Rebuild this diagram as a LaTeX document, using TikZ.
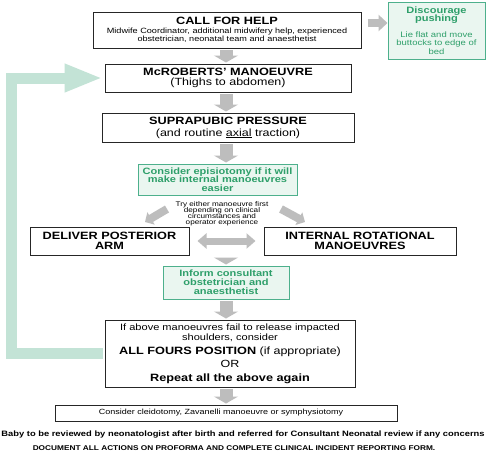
\documentclass[tikz,border=0pt]{standalone}
\usepackage{fontspec}
\setmainfont{Liberation Sans}[FakeStretch=1.2]
\usetikzlibrary{arrows.meta}
\definecolor{gbord}{HTML}{4DB08C}
\definecolor{gfill}{HTML}{EAF6F0}
\definecolor{gtext}{HTML}{2E9F6A}
\definecolor{mint}{HTML}{C3E3D6}
\definecolor{agray}{HTML}{BDBDBD}
\newcommand\fTitle{\fontsize{10.6}{10}\selectfont\bfseries}
\newcommand\fSub{\fontsize{10.4}{10}\selectfont}
\newcommand\fSmall{\fontsize{7.6}{8.5}\selectfont}
\newcommand\fGreen{\fontsize{9.2}{8.8}\selectfont\bfseries}
\newcommand\fTiny{\fontsize{6.8}{6}\selectfont}
\begin{document}
\begin{tikzpicture}[x=1pt,y=-1pt,
  every node/.style={execute at begin node={\lineskiplimit=-30pt\lineskip=0pt}},
  box/.style={draw=black!85, line width=1pt, fill=white, inner sep=0pt, align=center},
  gbox/.style={draw=gbord, line width=1pt, fill=gfill, text=gtext, inner sep=0pt, align=center},
  garrow/.style={agray, line width=13pt, shorten <=1.5pt, shorten >=1pt, -{Triangle[width=24pt,length=7pt]}},
  darrow/.style={agray, line width=8pt, -{Triangle[width=16pt,length=9pt]}},
  sarrow/.style={agray, line width=8pt, -{Triangle[width=14pt,length=7pt]}},
  bigarrow/.style={mint, line width=11pt, line join=miter, shorten <=2pt, shorten >=2pt, -{Triangle[width=26pt,length=38pt]}},
  dblarrow/.style={agray, line width=7pt, shorten <=8pt, shorten >=8pt, {Triangle[width=15pt,length=9pt]}-{Triangle[width=15pt,length=9pt]}},
  plain/.style={inner sep=0pt, align=center}]
\fill[white] (0,0) rectangle (486,455);
\useasboundingbox (0,0) rectangle (486,455);

\coordinate (ax) at (226,0);
\coordinate (gl) at (11,0);

\node[box, minimum width=268pt, minimum height=36pt, font=\fontsize{7.6}{8.5}\selectfont] (call) at (227,30)
  {\fTitle CALL FOR HELP\\[0.5pt]
   \fSmall Midwife Coordinator, additional midwifery help, experienced\\
   \fSmall obstetrician, neonatal team and anaesthetist};

\node[gbox, minimum width=97pt, minimum height=57pt, font=\fontsize{7.9}{8.6}\selectfont] (disc) at (436.5,30.5)
  {\fGreen Discourage\\ \fGreen pushing\\[7pt]
   \fontsize{7.9}{8.5}\selectfont Lie flat and move\\
   \fontsize{7.9}{8.5}\selectfont buttocks to edge of\\
   \fontsize{7.9}{8.5}\selectfont bed};

\node[box, minimum width=246pt, minimum height=28pt, font=\fontsize{10}{10}\selectfont] (mcr) at (228,78)
  {\fTitle McROBERTS' MANOEUVRE\\ \fSub (Thighs to abdomen)};

\node[box, minimum width=252pt, minimum height=29pt, font=\fontsize{10}{12}\selectfont] (sup) at (228,127.5)
  {\fTitle SUPRAPUBIC PRESSURE\\ \fSub (and routine \underline{axial} traction)};

\node[gbox, minimum width=159pt, minimum height=31pt, font=\fontsize{9.2}{8.7}\selectfont] (epi) at (217.5,179.5)
  {\fGreen Consider episiotomy if it will\\ \fGreen make internal manoeuvres\\ \fGreen easier};

\node[plain, font=\fontsize{6.8}{6}\selectfont] (try) at (222,214)
  {\fTiny Try either manoeuvre first\\ \fTiny depending on clinical\\ \fTiny circumstances and\\ \fTiny operator experience};

\node[box, minimum width=159pt, minimum height=28pt, font=\fontsize{10}{10}\selectfont] (dpa) at (109.5,241)
  {\fTitle DELIVER POSTERIOR\\ \fTitle ARM};

\node[box, minimum width=192pt, minimum height=28pt, font=\fontsize{10}{10}\selectfont] (irm) at (360,241)
  {\fTitle INTERNAL ROTATIONAL\\ \fTitle MANOEUVRES};

\node[gbox, minimum width=126pt, minimum height=33pt, font=\fontsize{9.2}{9}\selectfont] (inf) at (226,282.5)
  {\fGreen Inform consultant\\ \fGreen obstetrician and\\ \fGreen anaesthetist};

\node[box, minimum width=250pt, minimum height=67pt, font=\fontsize{9.2}{10}\selectfont] (ifb) at (230,353.5)
  {If above manoeuvres fail to release impacted\\
   shoulders, consider\\[4pt]
   \fTitle ALL FOURS POSITION \fSub\mdseries (if appropriate)\\[3.5pt]
   \fSub OR\\[3.5pt]
   \fTitle Repeat all the above again};

\node[box, minimum width=342pt, minimum height=16pt] (cle) at (226,413)
  {\fontsize{7.5}{8}\selectfont Consider cleidotomy, Zavanelli manoeuvre or symphysiotomy\hspace*{10pt}};

\node[plain] (baby) at (243,434)
  {\fontsize{7.8}{8}\selectfont\bfseries Baby to be reviewed by neonatologist after birth and referred for Consultant Neonatal review if any concerns};

\node[plain] (doc) at (234,448)
  {\fontsize{6.9}{7}\selectfont\bfseries DOCUMENT ALL ACTIONS ON PROFORMA AND COMPLETE CLINICAL INCIDENT REPORTING FORM.};

% connectors
\draw[garrow] (call.south -| ax) -- (mcr.north -| ax);
\draw[garrow] (mcr.south -| ax) -- (sup.north -| ax);
\draw[garrow] (sup.south -| ax) -- (epi.north -| ax);
\coordinate (tl) at (167,209);
\coordinate (tlx) at (145,222);
\coordinate (tr) at (281,209);
\coordinate (trx) at (305,222);
\draw[sarrow] (tl) -- (tlx);
\draw[sarrow] (tr) -- (trx);
\draw[dblarrow] (dpa.east) -- (irm.west);
\coordinate (ins) at (226,256);
\draw[garrow] (ins) -- (inf.north -| ax);
\draw[garrow] (inf.south -| ax) -- (ifb.north -| ax);
\draw[garrow] (ifb.south -| ax) -- (cle.north -| ax);
\coordinate (cd) at (368,23);
\draw[darrow] (cd) -- (disc.west |- cd);
\draw[bigarrow] (ifb.west) -| (gl |- mcr.west) -- (mcr.west);
\end{tikzpicture}
\end{document}
